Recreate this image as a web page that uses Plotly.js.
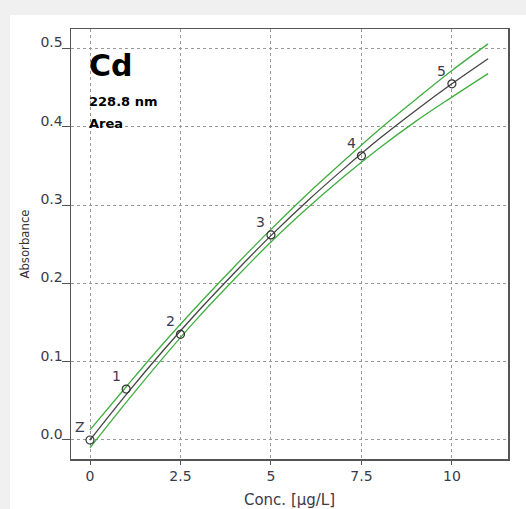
<!DOCTYPE html>
<html><head><meta charset="utf-8">
<script src="https://cdn.plot.ly/plotly-3.0.1.min.js"></script>
<style>
html,body{margin:0;padding:0;background:#f0f0f0;width:526px;height:509px;overflow:hidden;}
#chart{position:absolute;left:10px;top:15px;width:516px;height:494px;background:#fff;}
</style></head><body>
<div id="chart"></div>
<script>
// Calibration standards
const stdLabels = ["Z", "1", "2", "3", "4", "5"];
const stdConc = [0, 1, 2.5, 5, 7.5, 10];
const stdAbs = [0.000, 0.065, 0.135, 0.262, 0.363, 0.455];

// Fitted curve and confidence band
const fitConc = [0, 1, 2, 3, 4, 5, 6, 7, 8, 9, 10, 11];
const fitAbs = [0.000, 0.058, 0.113, 0.165, 0.214, 0.261, 0.305, 0.346, 0.385, 0.421, 0.455, 0.487];
const upperAbs = [0.013, 0.068, 0.122, 0.173, 0.222, 0.269, 0.314, 0.356, 0.397, 0.435, 0.472, 0.506];
const lowerAbs = [-0.010, 0.048, 0.104, 0.157, 0.206, 0.253, 0.296, 0.336, 0.373, 0.407, 0.438, 0.468];

const xTicks = [0, 2.5, 5, 7.5, 10];
const xTickText = ["0", "2.5", "5", "7.5", "10"];
const yTicks = [0, 0.1, 0.2, 0.3, 0.4, 0.5];
const yTickText = ["0.0", "0.1", "0.2", "0.3", "0.4", "0.5"];

const elementText = ["Cd", "228.8 nm", "Area"];

const font = "DejaVu Sans, Verdana, sans-serif";
const green = "#3fae3f";

const traces = [
  {x: fitConc, y: upperAbs, mode: "lines", line: {color: green, width: 1.3, shape: "spline"}, hoverinfo: "skip"},
  {x: fitConc, y: lowerAbs, mode: "lines", line: {color: green, width: 1.3, shape: "spline"}, hoverinfo: "skip"},
  {x: fitConc, y: fitAbs, mode: "lines", line: {color: "#444", width: 1.3, shape: "spline"}, hoverinfo: "skip"},
  {x: stdConc, y: stdAbs, mode: "markers", marker: {symbol: "circle-open", size: 8, color: "#333", line: {width: 1.2}}}
];

const annotations = stdLabels.map((t, i) => ({
  x: stdConc[i], y: stdAbs[i], xref: "x", yref: "y", text: t, showarrow: false,
  xshift: -10, yshift: 13, font: {family: font, size: 14, color: "#3a3a55"}
}));
const infoY = [0.478, 0.433, 0.404];
const infoSize = [30, 13, 13];
elementText.forEach((t, i) => annotations.push({
  x: 0, y: infoY[i], xref: "x", yref: "y", xanchor: "left", yanchor: "middle",
  text: "<b>" + t + "</b>", showarrow: false, xshift: -3,
  font: {family: font, size: infoSize[i], color: "#000"}
}));

const layout = {
  width: 516, height: 494,
  margin: {l: 61, r: 18, t: 14, b: 50},
  paper_bgcolor: "#fff", plot_bgcolor: "#fff",
  showlegend: false,
  font: {family: font, size: 14, color: "#333"},
  xaxis: {
    range: [-0.525, 11.55], tickvals: xTicks, ticktext: xTickText,
    showgrid: true, gridcolor: "#999", griddash: "3px,3px", gridwidth: 1,
    zeroline: false, showline: true, linecolor: "#555", linewidth: 1.5, mirror: true,
    ticks: "outside", ticklen: 4, tickcolor: "#555",
    tickfont: {family: font, size: 14, color: "#3a3a4a"},
    title: {text: "Conc. [µg/L]", font: {family: font, size: 15, color: "#3a3a4a"}, standoff: 11}
  },
  yaxis: {
    range: [-0.0243, 0.525], tickvals: yTicks, ticktext: yTickText,
    showgrid: true, gridcolor: "#999", griddash: "3px,3px", gridwidth: 1,
    zeroline: false, showline: true, linecolor: "#555", linewidth: 1.5, mirror: true,
    ticks: "outside", ticklen: 8, tickcolor: "#555",
    ticklabelstandoff: -4, ticklabelshift: -6,
    tickfont: {family: font, size: 14, color: "#3a3a4a"},
    title: {text: "Absorbance", font: {family: "DejaVu Sans Condensed, DejaVu Sans, sans-serif", size: 13, color: "#333"}, standoff: 8}
  },
  annotations: annotations
};

Plotly.newPlot("chart", traces, layout, {displayModeBar: false, staticPlot: true});
</script>
</body></html>
